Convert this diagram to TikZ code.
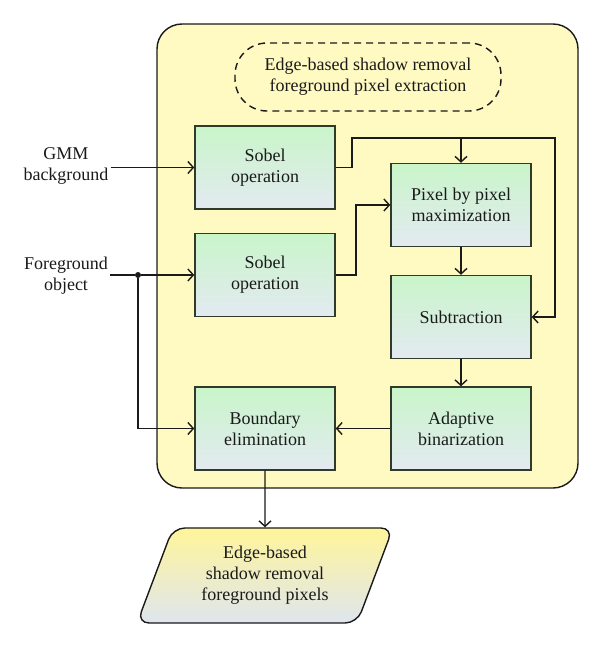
\documentclass[tikz,border=0pt]{standalone}
\usepackage{fontspec}
\setmainfont{Liberation Serif}
\usetikzlibrary{arrows.meta,shapes.geometric,calc}
\definecolor{frameyellow}{HTML}{FFF9C2}
\definecolor{boxtop}{HTML}{C9F5C9}
\definecolor{boxbot}{HTML}{E3EAF1}
\definecolor{boxedge}{HTML}{2F3A2A}
\definecolor{outtop}{HTML}{FFF59A}
\definecolor{outbot}{HTML}{DFE5EE}
\definecolor{inkc}{HTML}{1A1A1A}
\begin{document}
\begin{tikzpicture}[x=1pt,y=-1pt, font=\fontsize{18}{21}\selectfont,
  proc/.style={draw=boxedge, line width=1.4pt, top color=boxtop, bottom color=boxbot,
    minimum width=140pt, minimum height=83pt, align=center, inner sep=0pt, text=inkc},
  arr/.style={draw=inkc, line width=1.4pt, -{Straight Barb[length=5.5pt,width=12pt]}},
  ln/.style={draw=inkc, line width=1.4pt},
  lbl/.style={align=center, text=inkc, inner sep=2pt}]
\useasboundingbox (0,0) rectangle (600,647);
\node[draw=inkc, line width=1.4pt, fill=frameyellow, rounded corners=25pt,
  minimum width=421pt, minimum height=464pt, inner sep=0pt] (frame) at (367.5,256) {};
\node[draw=inkc, dash pattern=on 7pt off 5pt, line width=1.4pt, rounded corners=32pt,
  minimum width=266pt, minimum height=68pt, align=center, text=inkc] (title) at (368,77)
  {Edge-based shadow removal\\foreground pixel extraction};
\node[proc] (sobA) at (265,167.5) {Sobel\\operation};
\node[proc] (sobB) at (265,275) {Sobel\\operation};
\node[proc] (pix) at (461,205) {Pixel by pixel\\maximization};
\node[proc] (sub) at (461,317) {Subtraction};
\node[proc] (bnd) at (265,428.5) {Boundary\\elimination};
\node[proc] (adp) at (461,428.5) {Adaptive\\binarization};
\node[lbl] (gmm) at (66,166) {GMM\\background};
\node[lbl] (fg) at (66,276) {Foreground\\object};
\node[trapezium, trapezium left angle=67, trapezium right angle=113, trapezium stretches=true,
  minimum width=256pt, minimum height=95pt, rounded corners=12pt, draw=inkc, line width=1.4pt,
  top color=outtop, bottom color=outbot, align=center, inner sep=0pt, text=inkc] (out) at (265,575.5)
  {Edge-based\\shadow removal\\foreground pixels};
\node[circle, fill=inkc, inner sep=0pt, minimum size=6pt] (dot) at (138,275) {};
\coordinate (j1) at (352,138);
\coordinate (j2) at (555,138);
\coordinate (j3) at (356,275);
\draw[arr] (gmm.east |- sobA.west) -- (sobA.west);
\draw[ln] (fg.east |- dot) -- (dot);
\draw[arr] (dot) -- (sobB.west);
\draw[arr] (dot) |- (bnd.west);
\draw[arr] (sobA.east) -- (sobA.east -| j1) -- (j1) -- (j2) |- (sub.east);
\draw[arr] (pix.north |- j1) -- (pix.north);
\draw[arr] (sobB.east) -- (j3) |- (pix.west);
\draw[arr] (pix.south) -- (sub.north);
\draw[arr] (sub.south) -- (adp.north);
\draw[arr] (adp.west) -- (bnd.east);
\draw[arr] (bnd.south) -- (out.north);
\end{tikzpicture}
\end{document}
